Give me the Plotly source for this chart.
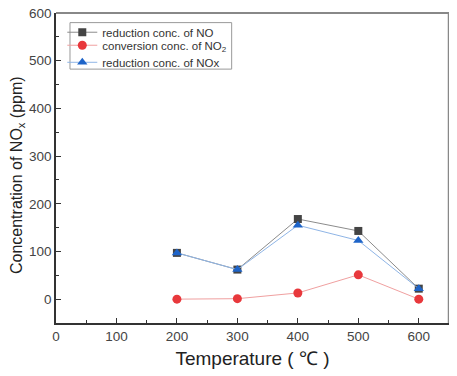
import plotly.graph_objects as go

temperature = [200, 300, 400, 500, 600]
no_reduction = [97, 62, 168, 143, 22]
no2_conversion = [0, 1, 13, 51, 0]
nox_reduction = [97, 62, 155, 123, 22]

font_family = "Arial, Liberation Sans, sans-serif"

fig = go.Figure()
fig.add_trace(go.Scatter(
    x=temperature, y=no_reduction, mode="lines+markers",
    name="reduction conc. of NO", legend="legend",
    line=dict(color="#8c8c8c", width=1),
    marker=dict(symbol="square", size=8, color="#444444"),
))
fig.add_trace(go.Scatter(
    x=temperature, y=no2_conversion, mode="lines+markers",
    name="conversion conc. of NO<sub>2</sub>", legend="legend2",
    line=dict(color="#f0a0a0", width=1),
    marker=dict(symbol="circle", size=9, color="#e8383c"),
))
fig.add_trace(go.Scatter(
    x=temperature, y=nox_reduction, mode="lines+markers",
    name="reduction conc. of NOx", legend="legend3",
    line=dict(color="#8fb5e6", width=1),
    marker=dict(symbol="triangle-up", size=9, color="#1e64c8"),
))

def leg(ypos):
    return dict(
        x=0.016, y=ypos, xanchor="left", yanchor="middle",
        bgcolor="rgba(0,0,0,0)", borderwidth=0,
        font=dict(size=11.5, family=font_family, color="#333333"),
        itemwidth=30,
    )

fig.update_layout(
    width=457, height=376,
    margin=dict(l=48, r=16, t=5, b=61),
    paper_bgcolor="white", plot_bgcolor="white",
    font=dict(family=font_family, color="#333333"),
    showlegend=True,
    legend=leg(0.938),
    legend2=leg(0.896),
    legend3=leg(0.841),
    shapes=[
        dict(type="rect", xref="paper", yref="paper",
             x0=0.0356, x1=0.447, y0=0.819, y1=0.969,
             line=dict(color="#999999", width=1), fillcolor="rgba(0,0,0,0)", layer="below"),
        dict(type="line", xref="paper", yref="paper", x0=0, x1=1, y0=1, y1=1,
             line=dict(color="#888888", width=2)),
        dict(type="line", xref="paper", yref="paper", x0=1, x1=1, y0=0, y1=1,
             line=dict(color="#888888", width=2.5)),
    ],
    annotations=[
        dict(text="Concentration of NO<sub>x</sub> (ppm)", xref="paper", yref="paper",
             x=-0.0995, y=0.477, xanchor="center", yanchor="middle", textangle=-90,
             showarrow=False, font=dict(size=16, color="#222222", family=font_family)),
    ],
)
fig.update_xaxes(
    range=[0, 650], tickvals=[0, 100, 200, 300, 400, 500, 600],
    ticks="inside", ticklen=5, tickcolor="#333333",
    minor=dict(tickvals=[50, 150, 250, 350, 450, 550, 650], ticks="inside", ticklen=3, tickcolor="#333333"),
    showline=True, linecolor="#333333", linewidth=1.5, mirror=False,
    showgrid=False, zeroline=False, automargin=False,
    tickfont=dict(size=13.5, color="#444444"), ticklabeloverflow="allow",
    title=dict(text="Temperature ( ℃ )", font=dict(size=19, color="#222222"), standoff=9),
)
fig.update_yaxes(
    range=[-50, 600], tickvals=[0, 100, 200, 300, 400, 500, 600],
    ticks="inside", ticklen=5, tickcolor="#333333",
    minor=dict(tickvals=[50, 150, 250, 350, 450, 550], ticks="inside", ticklen=3, tickcolor="#333333"),
    showline=True, linecolor="#333333", linewidth=1.5, mirror=False,
    showgrid=False, zeroline=False, automargin=False,
    tickfont=dict(size=13.5, color="#444444"), ticklabeloverflow="allow",
)

fig.write_html("out.html")
